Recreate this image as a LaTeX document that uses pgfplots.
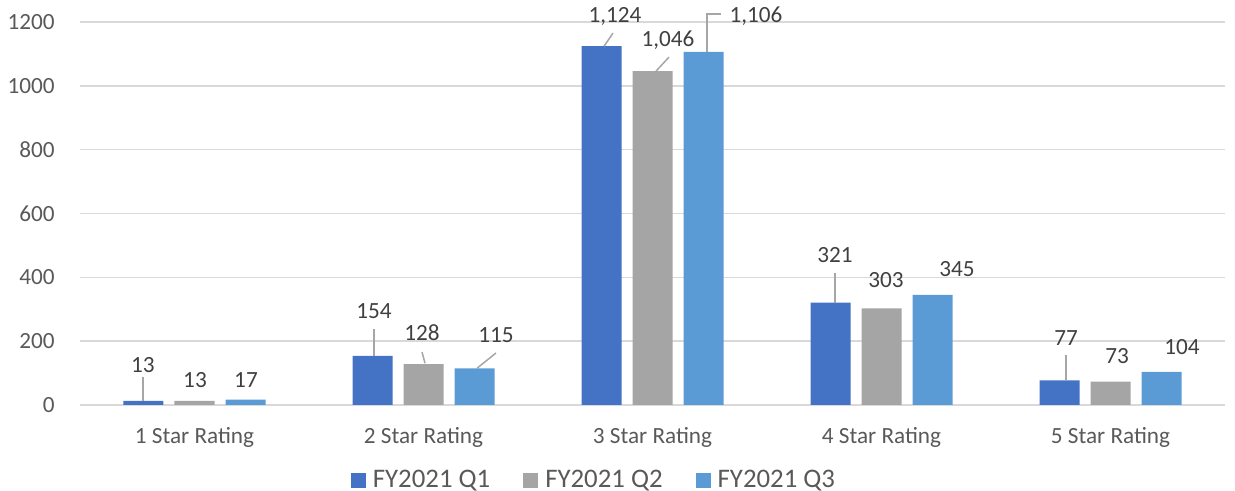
\documentclass[border=0pt]{standalone}
\usepackage{fontspec}
\setmainfont{Carlito}
\usepackage{pgfplots}
\pgfplotsset{compat=1.18}

\definecolor{qone}{HTML}{4472C4}
\definecolor{qtwo}{HTML}{A5A5A5}
\definecolor{qthree}{HTML}{5B9BD5}
\definecolor{gridc}{HTML}{D9D9D9}
\definecolor{axtext}{HTML}{595959}
\definecolor{lbltext}{HTML}{404040}
\definecolor{leader}{HTML}{A6A6A6}

\tikzset{
    lbl/.style={font=\fontsize{11.6}{14}\selectfont, text=lbltext, inner sep=0pt, text depth=0pt, anchor=center},
    lead/.style={draw=leader, line width=0.75pt},
}

\begin{document}
\begin{tikzpicture}
\path[use as bounding box] (-40pt,-43pt) rectangle (577.5pt,202.5pt);
\begin{axis}[
    at={(0,0)}, anchor=south west,
    scale only axis,
    width=572.5pt, height=191.5pt,
    xmin=-0.5, xmax=4.5,
    ymin=0, ymax=1200,
    clip=false,
    axis line style={draw=none},
    major tick length=0pt,
    xtick={0,1,2,3,4},
    xticklabels={1 Star Rating, 2 Star Rating, 3 Star Rating, 4 Star Rating, 5 Star Rating},
    ytick={0,200,...,1200},
    ymajorgrids,
    grid style={draw=gridc, line width=0.75pt},
    /pgf/number format/assume math mode=true,
    /pgf/number format/1000 sep={},
    ticklabel style={font=\fontsize{11.6}{14}\selectfont, text=axtext, inner sep=0pt},
    yticklabel style={anchor=east, xshift=-12.5pt},
    xticklabel style={anchor=north, yshift=-11pt},
    legend columns=3,
    legend image code/.code={\fill[#1] (0pt,-3.75pt) rectangle (7.5pt,3.75pt);},
    legend style={
        at={(0.448,-0.196)}, anchor=center,
        draw=none, fill=none, inner sep=0pt,
        font=\fontsize{13.4}{16}\selectfont, text=axtext,
        nodes={inner sep=0pt},
        /tikz/every odd column/.append style={column sep=3.5pt},
        /tikz/every even column/.append style={column sep=16.5pt},
    },
]
\addplot[ybar, fill=qone, draw=none, bar width=20pt, bar shift=-25.5pt]
    coordinates {(0,13) (1,154) (2,1124) (3,321) (4,77)};
\addlegendentry{FY2021 Q1}
\addplot[ybar, fill=qtwo, draw=none, bar width=20pt, bar shift=0pt]
    coordinates {(0,13) (1,128) (2,1046) (3,303) (4,73)};
\addlegendentry{FY2021 Q2}
\addplot[ybar, fill=qthree, draw=none, bar width=20pt, bar shift=25.5pt]
    coordinates {(0,17) (1,115) (2,1106) (3,345) (4,104)};
\addlegendentry{FY2021 Q3}

% leader lines
\draw[lead] (axis cs:-0.225,13) -- (axis cs:-0.225,88);
\draw[lead] (axis cs:0.784,154) -- (axis cs:0.784,238);
\draw[lead] (axis cs:1.0066,131) -- (axis cs:0.9934,166);
\draw[lead] (axis cs:1.2336,115) -- (axis cs:1.3166,163);
\draw[lead] (axis cs:1.7882,1124) -- (axis cs:1.8275,1165);
\draw[lead] (axis cs:2.0153,1046) -- (axis cs:2.0721,1090);
\draw[lead] (axis cs:2.238,1106) -- (axis cs:2.238,1225) -- (axis cs:2.2991,1225);
\draw[lead] (axis cs:2.797,321) -- (axis cs:2.797,414);
\draw[lead] (axis cs:3.8057,77) -- (axis cs:3.8057,157);

% data labels
\node[lbl] at (axis cs:-0.225,125) {13};
\node[lbl] at (axis cs:0.0022,78) {13};
\node[lbl] at (axis cs:0.2249,78) {17};
\node[lbl] at (axis cs:0.784,294) {154};
\node[lbl] at (axis cs:0.9934,226) {128};
\node[lbl] at (axis cs:1.3166,219) {115};
\node[lbl] at (axis cs:1.8362,1222) {1,124};
\node[lbl] at (axis cs:2.0677,1147) {1,046};
\node[lbl] at (axis cs:2.452,1222) {1,106};
\node[lbl] at (axis cs:2.797,470) {321};
\node[lbl] at (axis cs:3.0197,392) {303};
\node[lbl] at (axis cs:3.3297,426) {345};
\node[lbl] at (axis cs:3.8057,210) {77};
\node[lbl] at (axis cs:4.0284,154) {73};
\node[lbl] at (axis cs:4.3122,182) {104};
\end{axis}
\end{tikzpicture}
\end{document}
